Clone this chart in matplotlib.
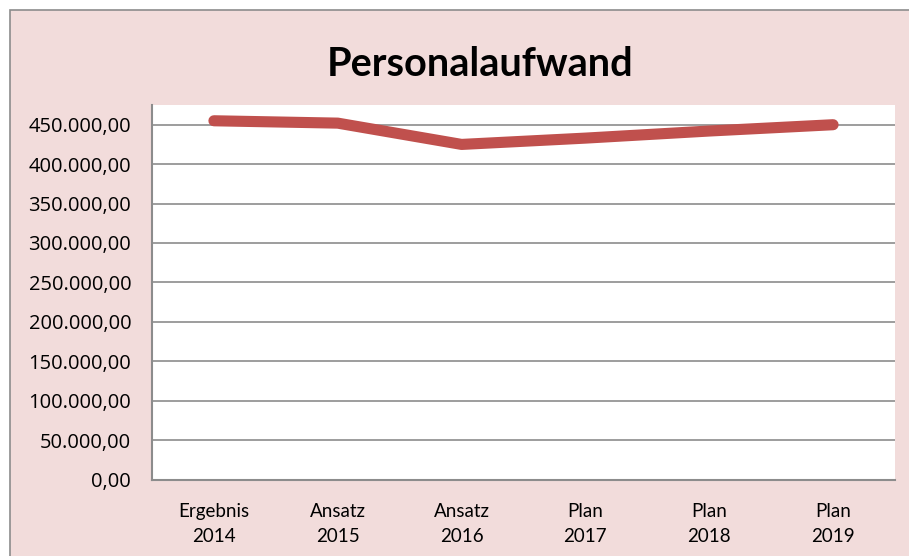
import matplotlib
matplotlib.use("Agg")
import matplotlib.pyplot as plt
from matplotlib.patches import Rectangle
from matplotlib.ticker import FuncFormatter

# data
categories = ["Ergebnis\n2014", "Ansatz\n2015", "Ansatz\n2016", "Plan\n2017", "Plan\n2018", "Plan\n2019"]
personalaufwand = [455000, 452000, 425000, 433000, 442000, 450000]
y_ticks = list(range(0, 450001, 50000))

def german_fmt(v, pos):
    s = f"{v:,.2f}"
    return s.replace(",", "X").replace(".", ",").replace("X", ".")

fig = plt.figure(figsize=(9.09, 5.56), dpi=100)
fig.patch.set_facecolor("white")

# pink chart area with grey frame
bg = Rectangle((10 / 909, -0.01), 1.0, 1 - 10 / 556 + 0.01, transform=fig.transFigure,
               facecolor="#F2DCDB", edgecolor="#8C8C8C", linewidth=1.2, zorder=-10)
fig.patches.append(bg)

ax = fig.add_axes([152 / 909, 1 - 479.5 / 556, (895 - 152) / 909, (479.5 - 105) / 556])
ax.set_facecolor("white")

x = list(range(len(categories)))
ax.plot(x, personalaufwand, color="#C0504D", linewidth=8, solid_capstyle="round",
        solid_joinstyle="round", zorder=3)

ax.set_xlim(-0.5, len(categories) - 0.5)
ax.set_ylim(0, 475000)
ax.set_yticks(y_ticks)
ax.yaxis.set_major_formatter(FuncFormatter(german_fmt))
ax.set_xticks(x)
ax.set_xticklabels(categories, fontfamily="Lato", fontsize=13.5, linespacing=1.55)
for lbl in ax.get_yticklabels():
    lbl.set_fontfamily("Open Sans")
    lbl.set_fontsize(14.5)

ax.grid(axis="y", color="#8C8C8C", linewidth=1.2)
ax.set_axisbelow(True)
ax.tick_params(axis="both", length=0, colors="black")
ax.tick_params(axis="y", pad=15)
ax.tick_params(axis="x", pad=17)
for side in ["top", "right"]:
    ax.spines[side].set_visible(False)
for side in ["left", "bottom"]:
    ax.spines[side].set_color("#8C8C8C")
    ax.spines[side].set_linewidth(1.5)

fig.text(480 / 909, 1 - 65 / 556, "Personalaufwand", ha="center", va="center",
         fontfamily="Lato", fontweight="bold", fontsize=28.5)

fig.savefig("out.png", dpi=100)
